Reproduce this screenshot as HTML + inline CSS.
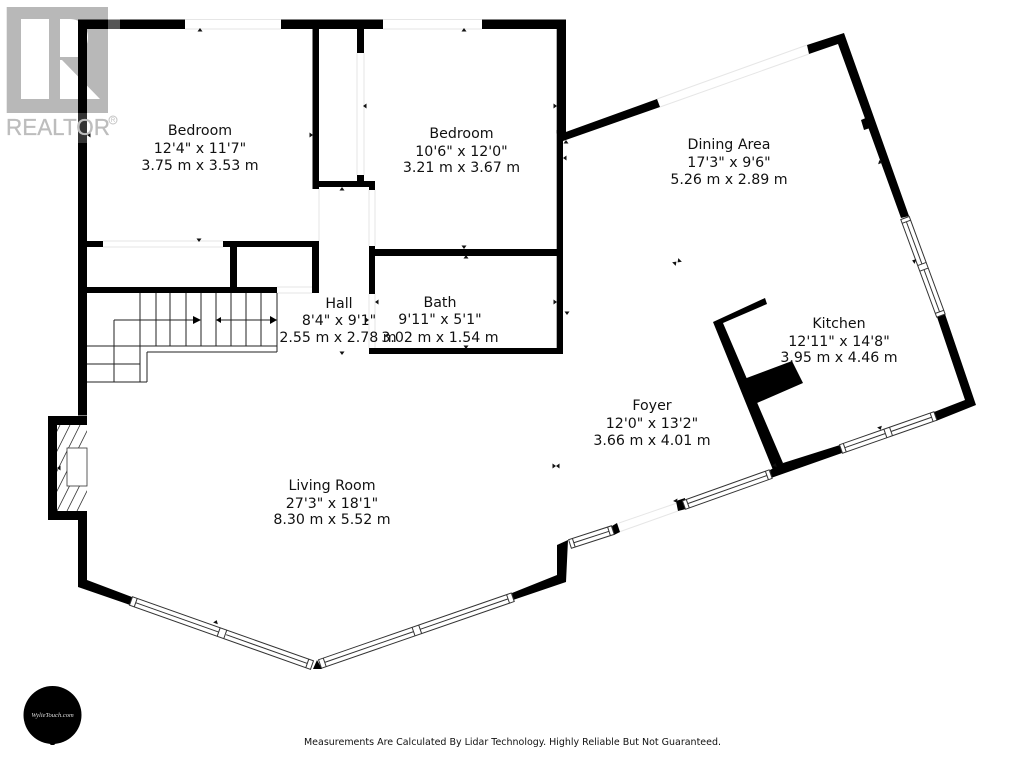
<!DOCTYPE html>
<html><head><meta charset="utf-8"><style>
html,body{margin:0;padding:0;background:#fff}
svg{display:block}
text{font-family:"DejaVu Sans",sans-serif;font-size:14.2px;fill:#111;text-anchor:middle}
.f{stroke:#e6e6e6;stroke-width:1;fill:none}
.s{stroke:#222;stroke-width:1;fill:none}
</style></head><body>
<svg width="1024" height="768" viewBox="0 0 1024 768" xmlns="http://www.w3.org/2000/svg">
<defs>
<clipPath id="h"><rect x="57" y="425" width="30" height="86"/></clipPath>
<g id="a"><polygon points="-2.5,1.5 2.5,1.5 0,-2" fill="#111"/></g>
</defs>
<rect width="1024" height="768" fill="#fff"/>

<!-- faint openings -->
<g class="f">
<path d="M185 19.5H281M185 29H281M383 19.5H482M383 29H482M103 241H223M103 247H223M357 53V175M364 53V175M319 189V241M369 190V246M375 190V246M277 287H312M277 293H312M369 294V348M375 294V348"/>
<path d="M657 99L807 45M660 107L809 54M619 523L677 503M619 532L678 511"/>
</g>

<!-- stairs -->
<g class="s">
<path d="M140 293V382M156 293V346M170 293V346M186 293V346M201 293V346M216 293V346M231 293V346M246 293V346M261 293V346M277 293V352"/>
<path d="M87 346H277M147 352H277M147 352V382M87 382H147M87 364H140M114 320V382M114 320H200M216 320H277"/>
</g>
<polygon points="193,316 201,320 193,324" fill="#000"/>
<polygon points="270,316 277,320 270,324" fill="#000"/>
<polygon points="221,317 216,320 221,323" fill="#000"/>

<!-- walls -->
<g fill="#000">
<rect x="78" y="19.5" width="107" height="9.5"/>
<rect x="281" y="19.5" width="102" height="9.5"/>
<rect x="482" y="19.5" width="84" height="9.5"/>
<rect x="78" y="19.5" width="9" height="396"/>
<rect x="556.7" y="19.5" width="9.3" height="114"/>
<rect x="556.7" y="130" width="6.3" height="224"/>
<rect x="312.5" y="29" width="6.5" height="160"/>
<rect x="312.5" y="181" width="62.5" height="6"/>
<rect x="369" y="181" width="6" height="9"/>
<rect x="357" y="29" width="7" height="24"/>
<rect x="357" y="175" width="7" height="6"/>
<rect x="369" y="246" width="6" height="48"/>
<rect x="375" y="249" width="182" height="7"/>
<rect x="369" y="348" width="194" height="6"/>
<rect x="87" y="241" width="16" height="6"/>
<rect x="223" y="241" width="96" height="6"/>
<rect x="230" y="247" width="7" height="41"/>
<rect x="312" y="247" width="7" height="46"/>
<rect x="87" y="287" width="190" height="6"/>
<!-- fireplace surround -->
<rect x="48" y="416" width="39" height="9"/>
<rect x="48" y="416" width="9" height="104"/>
<rect x="48" y="511" width="39" height="9"/>
<rect x="78" y="520" width="9" height="67"/>
<!-- lower left -->
<polygon points="78,587 78,560 87,560 87,580 132,597 130,605"/>
<polygon points="313,669 317,660 322,669"/>
<!-- lower right jog -->
<polygon points="512,593 557,575 557,545 568,540 566,582 513,600"/>
<!-- foyer front pieces -->
<polygon points="612,526 617,523 620,532 614,535"/>
<polygon points="676,501 685,498 686,509 678,511"/>
<polygon points="770,470 783,463 840,445 842,453 771,478"/>
<!-- kitchen corner -->
<polygon points="934,412 965,400 937,317 945,314 976,405 936,421"/>
<!-- east wall -->
<polygon points="901,218 838,44 809,54 807,45 844,33 909,216"/>
<polygon points="861,120 868,117 873,127 864,130"/>
<!-- dining north wall -->
<polygon points="563,133 657,99 660,107 563,141"/>
<!-- kitchen internal -->
<polygon points="765,298 767,304 723,323 783,463 773,470 713,322"/>
<polygon points="744,379 792,361 803,383 757,403"/>
</g>

<!-- fireplace hatch -->
<g clip-path="url(#h)" stroke="#333" stroke-width=".8">
<path d="M7 511L50 425M17 511L60 425M27 511L70 425M37 511L80 425M47 511L90 425M57 511L100 425M67 511L110 425M77 511L120 425"/>
</g>
<rect x="67" y="448" width="20" height="38" fill="#fff" stroke="#333" stroke-width=".8"/>

<!-- windows -->
<g fill="#fff" stroke="#333" stroke-width="1">
<g transform="translate(131,601) rotate(19.5)"><rect x="0" y="-4.5" width="192" height="9"/><path d="M5 -4.5V4.5M5 0H93M101 0H187M187 -4.5V4.5M93 -4.5V4.5M100 -4.5V4.5"/></g>
<g transform="translate(320,664) rotate(-19.1)"><rect x="0" y="-4.5" width="204" height="9"/><path d="M5 -4.5V4.5M5 0H99M106 0H199M199 -4.5V4.5M99 -4.5V4.5M106 -4.5V4.5"/></g>
<g transform="translate(570,544) rotate(-18)"><rect x="0" y="-4.5" width="45" height="9"/><path d="M4 -4.5V4.5M4 0H41M41 -4.5V4.5"/></g>
<g transform="translate(684,505) rotate(-19.6)"><rect x="0" y="-4.5" width="92" height="9"/><path d="M4 -4.5V4.5M4 0H88M88 -4.5V4.5"/></g>
<g transform="translate(841,449) rotate(-19.3)"><rect x="0" y="-4.5" width="100" height="9"/><path d="M4 -4.5V4.5M4 0H47M53 0H96M96 -4.5V4.5M47 -4.5V4.5M53 -4.5V4.5"/></g>
<g transform="translate(905,218) rotate(69.8)"><rect x="0" y="-4.5" width="104" height="9"/><path d="M4 -4.5V4.5M4 0H49M55 0H100M100 -4.5V4.5M49 -4.5V4.5M55 -4.5V4.5"/></g>
</g>

<!-- small arrowheads -->
<use href="#a" x="200" y="30"/>
<g transform="translate(199,240) rotate(180)"><use href="#a"/></g>
<g transform="translate(311,135) rotate(90)"><use href="#a"/></g>
<g transform="translate(89,135) rotate(-90)"><use href="#a"/></g>
<g transform="translate(365,106) rotate(-90)"><use href="#a"/></g>
<g transform="translate(555,106) rotate(90)"><use href="#a"/></g>
<use href="#a" x="464" y="30"/>
<use href="#a" x="342" y="189"/>
<g transform="translate(464,247) rotate(180)"><use href="#a"/></g>
<use href="#a" x="466" y="257"/>
<g transform="translate(377,302) rotate(-90)"><use href="#a"/></g>
<g transform="translate(555,302) rotate(90)"><use href="#a"/></g>
<g transform="translate(466,347) rotate(180)"><use href="#a"/></g>
<use href="#a" x="566" y="142"/>
<g transform="translate(565,158) rotate(-90)"><use href="#a"/></g>
<g transform="translate(567,313) rotate(180)"><use href="#a"/></g>
<g transform="translate(342,353) rotate(180)"><use href="#a"/></g>
<g transform="translate(367,320) rotate(90)"><use href="#a"/></g>
<g transform="translate(59,468) rotate(-90)"><use href="#a"/></g>
<g transform="translate(216,622) rotate(20)"><use href="#a"/></g>
<g transform="translate(679,261) rotate(-135)"><use href="#a"/></g>
<g transform="translate(675,263) rotate(45)"><use href="#a"/></g>
<g transform="translate(880,162) rotate(-20)"><use href="#a"/></g>
<g transform="translate(914,261) rotate(-70)"><use href="#a"/></g>
<g transform="translate(880,428) rotate(160)"><use href="#a"/></g>
<g transform="translate(676,501) rotate(150)"><use href="#a"/></g>
<g transform="translate(775,465) rotate(20)"><use href="#a"/></g>
<g transform="translate(554,466) rotate(90)"><use href="#a"/></g>
<g transform="translate(558,466) rotate(-90)"><use href="#a"/></g>

<!-- room labels -->
<text x="200" y="135">Bedroom</text><text x="200" y="153">12'4" x 11'7"</text><text x="200" y="170">3.75 m x 3.53 m</text>
<text x="461.5" y="138">Bedroom</text><text x="461.5" y="156">10'6" x 12'0"</text><text x="461.5" y="172">3.21 m x 3.67 m</text>
<text x="339" y="308">Hall</text><text x="339" y="325">8'4" x 9'1"</text><text x="338" y="342">2.55 m x 2.78 m</text>
<text x="440" y="307">Bath</text><text x="440" y="324">9'11" x 5'1"</text><text x="440" y="342">3.02 m x 1.54 m</text>
<text x="729" y="149">Dining Area</text><text x="729" y="167">17'3" x 9'6"</text><text x="729" y="184">5.26 m x 2.89 m</text>
<text x="839" y="328">Kitchen</text><text x="839" y="346">12'11" x 14'8"</text><text x="839" y="362">3.95 m x 4.46 m</text>
<text x="652" y="410">Foyer</text><text x="652" y="428">12'0" x 13'2"</text><text x="652" y="445">3.66 m x 4.01 m</text>
<text x="332" y="490">Living Room</text><text x="332" y="508">27'3" x 18'1"</text><text x="332" y="524">8.30 m x 5.52 m</text>

<text x="512.5" y="745" style="font-size:9.6px" textLength="417" lengthAdjust="spacingAndGlyphs">Measurements Are Calculated By Lidar Technology. Highly Reliable But Not Guaranteed.</text>

<!-- round logo -->
<circle cx="52.5" cy="715" r="29" fill="#000"/>
<rect x="50" y="742" width="5" height="3" rx="1.5" fill="#000"/>
<text x="52.5" y="717" style="font-size:6.5px;fill:#ddd;font-family:'Liberation Serif',serif;font-style:italic">WylieTouch.com</text>

<!-- REALTOR logo -->
<path fill-rule="evenodd" fill="#000" fill-opacity=".28" d="M6.7 7H108V113H6.7ZM21 19V99H49V19ZM60 19V57H80C85 50 88 44 88 37C88 27 80 19 70 19ZM60 60V99H100L62 60Z"/>
<rect x="108" y="19.5" width="12" height="9.5" fill="#555"/>
<rect x="78" y="113" width="9" height="30" fill="#333"/>
<text x="6" y="135" style="font-family:'Liberation Sans',sans-serif;font-size:23.5px;fill:#bdbdbd;stroke:#bdbdbd;stroke-width:.3;text-anchor:start" textLength="104" lengthAdjust="spacingAndGlyphs">REALTOR</text>
<circle cx="113" cy="120" r="4" fill="none" stroke="#c4c4c4" stroke-width="1"/>
<text x="113" y="122" style="font-family:'Liberation Sans',sans-serif;font-size:6px;fill:#bdbdbd">R</text>
</svg>
</body></html>
